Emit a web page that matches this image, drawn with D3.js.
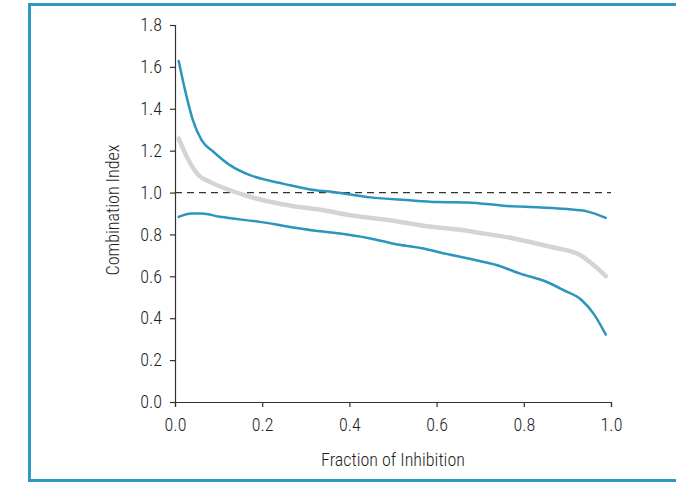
<!DOCTYPE html>
<html><head><meta charset="utf-8">
<script src="https://cdn.jsdelivr.net/npm/d3@7"></script>
<style>
html,body{margin:0;padding:0;background:#fff;}
text{font-family:"Roboto Condensed","Liberation Sans",sans-serif;font-weight:300;fill:#1e1e1e;}
</style></head>
<body><svg id="c" width="676" height="482"></svg>
<script>
const upperX = [0.0085,0.023,0.041,0.061,0.088,0.126,0.172,0.218,0.264,0.310,0.363,0.448,0.531,0.600,0.670,0.761,0.838,0.899,0.945,0.988];
const upperY = [1.628,1.489,1.346,1.250,1.195,1.131,1.083,1.056,1.035,1.015,1.003,0.977,0.964,0.955,0.953,0.936,0.929,0.921,0.910,0.879];
const meanX = [0.0085,0.027,0.054,0.080,0.126,0.172,0.218,0.272,0.333,0.402,0.493,0.578,0.654,0.685,0.777,0.861,0.930,0.956,0.988];
const meanY = [1.258,1.171,1.083,1.051,1.011,0.980,0.956,0.935,0.918,0.892,0.868,0.839,0.822,0.812,0.781,0.741,0.701,0.661,0.601];
const lowerX = [0.0085,0.038,0.061,0.103,0.195,0.264,0.333,0.364,0.448,0.501,0.570,0.608,0.670,0.739,0.792,0.853,0.891,0.933,0.960,0.988];
const lowerY = [0.884,0.900,0.900,0.884,0.860,0.836,0.815,0.808,0.781,0.756,0.733,0.714,0.686,0.653,0.613,0.573,0.534,0.486,0.422,0.322];
const xTicks = [0,0.2,0.4,0.6,0.8,1.0];
const yTicks = [0,0.2,0.4,0.6,0.8,1.0,1.2,1.4,1.6,1.8];
const refValue = 1.0;
const xLabel = "Fraction of Inhibition";
const yLabel = "Combination Index";

const svg = d3.select("#c");
const FS = 18;
// frame
svg.append("path").attr("d","M680,4.5H29.5V480.5H680")
  .attr("fill","none").attr("stroke","#2f98c2").attr("stroke-width",3);

const x = d3.scaleLinear().domain([0,1]).range([175,611]);
const y = d3.scaleLinear().domain([0,1.8]).range([402,25]);

const xa = svg.append("g").attr("transform","translate(0,402)")
  .call(d3.axisBottom(x).tickValues(xTicks).tickFormat(d3.format(".1f")).tickSize(5).tickPadding(11));
const ya = svg.append("g").attr("transform","translate(175,0)")
  .call(d3.axisLeft(y).tickValues(yTicks).tickFormat(d3.format(".1f")).tickSize(5).tickPadding(8));
[xa,ya].forEach(g=>{
  g.selectAll("path,line").attr("stroke","#333").attr("stroke-width",1.2);
  g.selectAll("text").style("font-size",FS+"px");
});

svg.append("line").attr("x1",x(0)).attr("x2",x(1)).attr("y1",y(refValue)).attr("y2",y(refValue))
  .attr("stroke","#333").attr("stroke-width",1.2).attr("stroke-dasharray","7,5");

const line = d3.line().x(d=>x(d[0])).y(d=>y(d[1])).curve(d3.curveMonotoneX);
const zip = (a,b)=>a.map((v,i)=>[v,b[i]]);
svg.append("path").datum(zip(meanX,meanY)).attr("d",line)
  .attr("fill","none").attr("stroke","#d4d4d4").attr("stroke-width",4.5).attr("stroke-linecap","round");
[[upperX,upperY],[lowerX,lowerY]].forEach(([a,b])=>{
  svg.append("path").datum(zip(a,b)).attr("d",line)
    .attr("fill","none").attr("stroke","#2b95bd").attr("stroke-width",2.5).attr("stroke-linecap","round");
});

svg.append("text").attr("x",393).attr("y",466).attr("text-anchor","middle")
  .style("font-size",FS+"px").text(xLabel);
svg.append("text").attr("transform","translate(119,210) rotate(-90)").attr("text-anchor","middle")
  .style("font-size",FS+"px").text(yLabel);
</script></body></html>
